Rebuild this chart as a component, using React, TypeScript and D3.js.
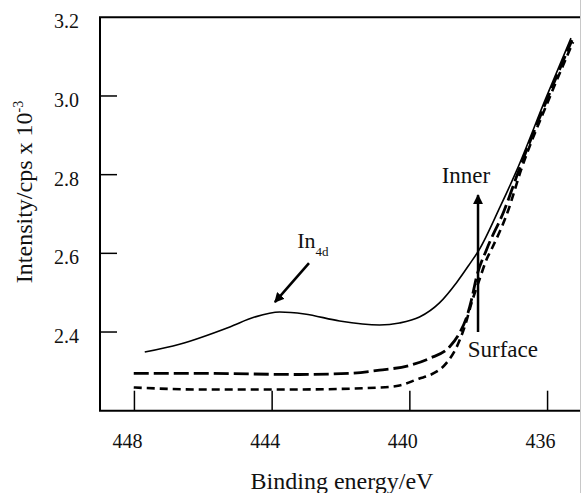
import React from "react";
import * as d3 from "d3";

// ---- Data (binding energy in eV, intensity in cps x 10^-3) ----
const solidE = [447.70, 446.69, 445.23, 444.51, 443.78, 443.06, 442.04, 440.88, 440.30, 439.72, 439.14, 438.64, 438.27, 437.98, 437.38, 436.89, 436.07, 435.32];
const solidI = [2.349, 2.369, 2.413, 2.438, 2.451, 2.446, 2.428, 2.418, 2.423, 2.438, 2.474, 2.526, 2.572, 2.610, 2.718, 2.812, 2.990, 3.147];

const longDashE = [448.02, 446.10, 443.20, 441.75, 440.88, 440.01, 439.43, 438.85, 438.56, 438.35, 438.21, 438.06, 437.77, 437.26, 436.83, 436.02, 435.29];
const longDashI = [2.295, 2.295, 2.292, 2.295, 2.303, 2.315, 2.333, 2.362, 2.397, 2.438, 2.482, 2.541, 2.610, 2.709, 2.812, 2.990, 3.142];

const shortDashE = [448.02, 446.10, 443.20, 440.88, 440.30, 439.72, 439.43, 438.94, 438.64, 438.41, 438.18, 437.98, 437.77, 437.63, 437.16, 436.77, 435.97, 435.26];
const shortDashI = [2.259, 2.254, 2.254, 2.259, 2.264, 2.282, 2.290, 2.321, 2.362, 2.413, 2.482, 2.533, 2.585, 2.610, 2.705, 2.812, 2.990, 3.137];

const xTicks = [448, 444, 440, 436];
const yTicks = [3.2, 3.0, 2.8, 2.6, 2.4];
const yTickMarks = [3.0, 2.8, 2.6, 2.4];

// annotations in data units
const in4dArrow = { from: [442.93, 2.575], to: [443.92, 2.476] };
const in4dLabel = [443.27, 2.613];
const layerArrow = { e: 438.02, from: 2.400, to: 2.748 };
const innerLabel = [438.37, 2.778];
const surfaceLabel = [437.30, 2.336];

const W = 582;
const H = 493;
const FONT = "Liberation Serif, Times New Roman, Times, DejaVu Serif, serif";

export default function App() {
  const x = d3.scaleLinear().domain([449, 435]).range([100, 582]);
  const y = d3.scaleLinear().domain([2.2, 3.2]).range([410.7, 17.3]);
  const left = 100, right = 580, top = y(3.2), bottom = y(2.2);

  const line = d3
    .line<[number, number]>()
    .x((d) => x(d[0]))
    .y((d) => y(d[1]))
    .curve(d3.curveMonotoneX);

  const zip = (a: number[], b: number[]) => a.map((v, i) => [v, b[i]] as [number, number]);

  return (
    <svg width={W} height={H} style={{ position: "absolute", left: 0, top: 0, background: "#fff", fontFamily: FONT }}>
      <defs>
        <marker id="ah" viewBox="0 0 10 10" refX="9" refY="5" markerWidth="4" markerHeight="4" orient="auto" markerUnits="strokeWidth">
          <path d="M0,0 L10,5 L0,10 z" fill="#000" />
        </marker>
      </defs>
      <rect x={0} y={0} width={W} height={H} fill="#fff" />
      {/* frame */}
      <line x1={left} x2={left} y1={top} y2={bottom} stroke="#000" strokeWidth={2} />
      <line x1={left - 1} x2={right} y1={top} y2={top} stroke="#000" strokeWidth={2} />
      <line x1={left - 1} x2={right} y1={bottom} y2={bottom} stroke="#000" strokeWidth={2} />
      <line x1={580.5} x2={580.5} y1={0} y2={H} stroke="#c8c8c8" strokeWidth={1} />

      {/* y ticks */}
      {yTickMarks.map((t) => (
        <line key={"yt" + t} x1={left} x2={left + 17} y1={y(t)} y2={y(t)} stroke="#000" strokeWidth={1.5} />
      ))}
      {yTicks.map((t) => (
        <text key={"yl" + t} x={79} y={y(t) + 11} textAnchor="end" fontFamily={FONT} fontSize={20} fill="#111">
          {d3.format(".1f")(t)}
        </text>
      ))}

      {/* x ticks */}
      {xTicks.map((t) => (
        <line key={"xt" + t} x1={x(t)} x2={x(t)} y1={bottom} y2={bottom - 20} stroke="#000" strokeWidth={1.5} />
      ))}
      {xTicks.map((t) => (
        <text key={"xl" + t} x={x(t) - 7} y={448} textAnchor="middle" fontFamily={FONT} fontSize={20} fill="#111">
          {t}
        </text>
      ))}

      {/* axis titles */}
      <text x={342} y={489} textAnchor="middle" fontFamily={FONT} fontSize={24} fill="#111">
        Binding energy/eV
      </text>
      <text transform="translate(32,192) rotate(-90)" textAnchor="middle" fontFamily={FONT} fontSize={24} fill="#111">
        Intensity/cps x 10
        <tspan dy={-9} fontSize={14}>-3</tspan>
      </text>

      {/* curves */}
      <path d={line(zip(shortDashE, shortDashI)) || ""} fill="none" stroke="#000" strokeWidth={2.6} strokeDasharray="8,5" />
      <path d={line(zip(longDashE, longDashI)) || ""} fill="none" stroke="#000" strokeWidth={2.8} strokeDasharray="15,5" />
      <path d={line(zip(solidE, solidI)) || ""} fill="none" stroke="#000" strokeWidth={1.6} />

      {/* In4d annotation */}
      <line
        x1={x(in4dArrow.from[0])}
        y1={y(in4dArrow.from[1])}
        x2={x(in4dArrow.to[0])}
        y2={y(in4dArrow.to[1])}
        stroke="#000"
        strokeWidth={2.5}
        markerEnd="url(#ah)"
      />
      <text x={x(in4dLabel[0])} y={y(in4dLabel[1])} fontFamily={FONT} fontSize={22} fill="#111">
        In
        <tspan dy={8} fontSize={13}>4d</tspan>
      </text>

      {/* Surface -> Inner arrow */}
      <line
        x1={x(layerArrow.e)}
        y1={y(layerArrow.from)}
        x2={x(layerArrow.e)}
        y2={y(layerArrow.to)}
        stroke="#000"
        strokeWidth={2.5}
        markerEnd="url(#ah)"
      />
      <text x={x(innerLabel[0])} y={y(innerLabel[1])} textAnchor="middle" fontFamily={FONT} fontSize={23} fill="#111">
        Inner
      </text>
      <text x={x(surfaceLabel[0])} y={y(surfaceLabel[1])} textAnchor="middle" fontFamily={FONT} fontSize={23} fill="#111">
        Surface
      </text>
    </svg>
  );
}
